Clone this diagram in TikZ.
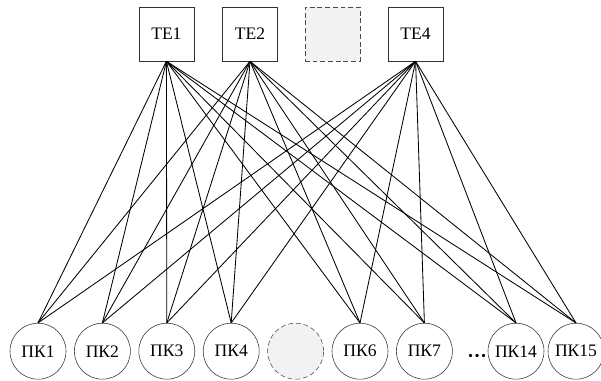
\documentclass[tikz,border=0pt]{standalone}
\usepackage{fontspec}
\setmainfont{Liberation Serif}

\begin{document}
\begin{tikzpicture}[
  every node/.style={draw=black!80, fill=white, font=\fontsize{12.5}{14}\selectfont},
  te/.style={minimum width=1.38cm, minimum height=1.35cm},
  pk/.style={circle, minimum size=1.4cm, inner sep=0pt},
  gap/.style={draw=black!70, fill=black!5, dash pattern=on 3.5pt off 2pt},
  link/.style={line width=0.6pt}
]
  \useasboundingbox (0,0) rectangle (15.025,-9.525);

  \node[te] (te1) at (4.16,-0.85)  {TE1};
  \node[te] (te2) at (6.25,-0.85)  {TE2};
  \node[te,gap] (te3) at (8.31,-0.85) {};
  \node[te] (te4) at (10.39,-0.85) {TE4};

  \node[pk] (pk1) at (0.95,-8.78)  {ПК1};
  \node[pk] (pk2) at (2.56,-8.78)  {ПК2};
  \node[pk] (pk3) at (4.17,-8.78)  {ПК3};
  \node[pk] (pk4) at (5.78,-8.78)  {ПК4};
  \node[pk,gap] (pk5) at (7.39,-8.78) {};
  \node[pk] (pk6) at (9.00,-8.78)  {ПК6};
  \node[pk] (pk7) at (10.61,-8.78) {ПК7};
  \node[draw=none, fill=none, font=\fontsize{14}{14}\selectfont\bfseries] (dots) at (11.93,-8.97) {···};
  \node[pk] (pk14) at (12.90,-8.78) {ПК14};
  \node[pk] (pk15) at (14.40,-8.78) {ПК15};

  \foreach \t in {te1,te2,te4}
    \foreach \p in {pk1,pk2,pk3,pk4,pk6,pk7,pk14,pk15}
      \draw[link] (\t.south) -- (\p.north);
\end{tikzpicture}
\end{document}
